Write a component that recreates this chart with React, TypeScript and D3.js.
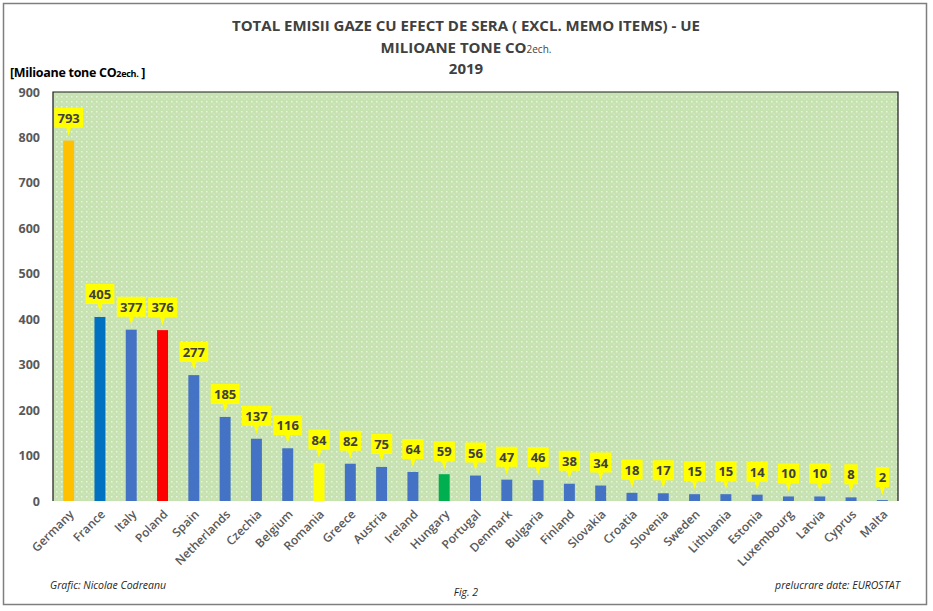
import React, { useRef, useEffect } from "react";
import * as d3 from "d3";

const countries = [
    "Germany", "France", "Italy", "Poland", "Spain", "Netherlands", "Czechia",
    "Belgium", "Romania", "Greece", "Austria", "Ireland", "Hungary", "Portugal",
    "Denmark", "Bulgaria", "Finland", "Slovakia", "Croatia", "Slovenia", "Sweden",
    "Lithuania", "Estonia", "Luxembourg", "Latvia", "Cyprus", "Malta",
];
const emissions = [
    793, 405, 377, 376, 277, 185, 137, 116, 84, 82, 75, 64, 59, 56, 47, 46, 38,
    34, 18, 17, 15, 15, 14, 10, 10, 8, 2,
];
const yTicks = [0, 100, 200, 300, 400, 500, 600, 700, 800, 900];

const highlight: Record<string, string> = {
    Germany: "#FFC000",
    France: "#0070C0",
    Poland: "#FF0000",
    Romania: "#FFFF00",
    Hungary: "#00B050",
};

const FONT = "'Open Sans', 'Noto Sans', sans-serif";

export const EmissionsChart = () => {
    const svgRef = useRef<SVGSVGElement>(null);

    useEffect(() => {
        if (!svgRef.current) return;
        const svg = d3.select(svgRef.current);
        svg.selectAll("*").remove();

        const width = 933;
        const height = 611;
        const plot = { left: 53, top: 92, right: 898, bottom: 501 };

        // frame
        svg.append("rect")
            .attr("x", 0).attr("y", 0).attr("width", width).attr("height", height)
            .attr("fill", "#fff");
        svg.append("rect")
            .attr("x", 3.5).attr("y", 3.5).attr("width", 923).attr("height", 601)
            .attr("fill", "none").attr("stroke", "#7f7f7f").attr("stroke-width", 1.5);

        const defs = svg.append("defs");
        const pat = defs.append("pattern")
            .attr("id", "dots").attr("patternUnits", "userSpaceOnUse")
            .attr("width", 5).attr("height", 5);
        pat.append("rect").attr("width", 5).attr("height", 5).attr("fill", "#C7E2B1");
        pat.append("rect").attr("x", 1).attr("y", 1).attr("width", 1.5).attr("height", 1.5)
            .attr("fill", "#E8F4DD");
        pat.append("rect").attr("x", 3.5).attr("y", 3.5).attr("width", 1).attr("height", 1)
            .attr("fill", "#DCEDCC");

        // titles
        const titles = [
            { t: "TOTAL EMISII GAZE CU EFECT DE SERA ( EXCL. MEMO ITEMS) - UE", y: 31 },
            { t: "2019", y: 74 },
        ];
        titles.forEach((d) =>
            svg.append("text")
                .attr("x", 466).attr("y", d.y)
                .attr("text-anchor", "middle")
                .attr("font-family", FONT).attr("font-weight", "bold")
                .attr("font-size", 15).attr("fill", "#404040")
                .text(d.t)
        );
        const sub = svg.append("text")
            .attr("x", 466).attr("y", 53)
            .attr("text-anchor", "middle")
            .attr("font-family", FONT).attr("font-weight", "bold")
            .attr("font-size", 15).attr("fill", "#404040");
        sub.append("tspan").text("MILIOANE TONE CO");
        sub.append("tspan").attr("font-size", 10).attr("font-weight", "normal").text("2ech.");

        const yl = svg.append("text")
            .attr("x", 10).attr("y", 77)
            .attr("font-family", FONT).attr("font-weight", "bold")
            .attr("font-size", 12.5).attr("fill", "#000")
            .attr("letter-spacing", -0.3);
        yl.append("tspan").text("[Milioane tone CO");
        yl.append("tspan").attr("font-size", 9).text("2ech.");
        yl.append("tspan").text(" ]");

        const x = d3.scaleBand<string>()
            .domain(countries)
            .range([plot.left, plot.right])
            .paddingInner(0.65)
            .paddingOuter(0.325);

        const y = d3.scaleLinear()
            .domain([0, 900])
            .range([plot.bottom, plot.top]);

        svg.append("rect")
            .attr("x", plot.left).attr("y", plot.top)
            .attr("width", plot.right - plot.left).attr("height", plot.bottom - plot.top)
            .attr("fill", "url(#dots)");
        svg.append("path")
            .attr("d", `M${plot.left},${plot.bottom}V${plot.top}H${plot.right}V${plot.bottom}`)
            .attr("fill", "none").attr("stroke", "#1a1a1a").attr("stroke-width", 1.2);

        // y axis
        const yAxis = svg.append("g")
            .attr("transform", `translate(${plot.left},0)`)
            .call(d3.axisLeft(y).tickValues(yTicks).tickSize(0).tickPadding(13));
        yAxis.select(".domain").remove();
        yAxis.selectAll("text")
            .attr("font-family", FONT).attr("font-weight", "bold")
            .attr("font-size", 12.5).attr("fill", "#595959");

        // x axis
        const xAxis = svg.append("g")
            .attr("transform", `translate(0,${plot.bottom})`)
            .call(d3.axisBottom(x).tickSize(0).tickPadding(0));
        xAxis.select(".domain").remove();
        xAxis.selectAll("text")
            .attr("font-family", FONT).attr("font-weight", 600)
            .attr("font-size", 12).attr("fill", "#595959")
            .attr("text-anchor", "end")
            .attr("dy", null)
            .attr("transform", "translate(6,14) rotate(-45)");

        // bars
        svg.append("g")
            .selectAll("rect")
            .data(countries)
            .enter()
            .append("rect")
            .attr("x", (d) => x(d) || 0)
            .attr("y", (d, i) => y(emissions[i]))
            .attr("width", x.bandwidth())
            .attr("height", (d, i) => plot.bottom - y(emissions[i]))
            .attr("fill", (d) => highlight[d] || "#4472C4");

        // callouts
        const callouts = svg.append("g")
            .selectAll("g")
            .data(countries)
            .enter()
            .append("g")
            .attr("transform", (d, i) =>
                `translate(${(x(d) || 0) + x.bandwidth() / 2},${y(emissions[i]) - 5})`);

        callouts.append("path")
            .attr("d", (d, i) => {
                const w = String(emissions[i]).length * 7.6 + 6;
                const h = 20;
                const p = 8;
                return `M0,0L-2.5,${-p}H${-w / 2}V${-p - h}H${w / 2}V${-p}H2.5Z`;
            })
            .attr("fill", "#FFFF00");

        callouts.append("text")
            .attr("y", -13)
            .attr("text-anchor", "middle")
            .attr("font-family", FONT).attr("font-weight", "bold")
            .attr("font-size", 13).attr("fill", "#404040")
            .text((d, i) => emissions[i]);

        // footer
        const foot = [
            { t: "Grafic: Nicolae Codreanu", x: 50, y: 589, a: "start" },
            { t: "Fig. 2", x: 466, y: 596, a: "middle" },
            { t: "prelucrare date: EUROSTAT", x: 900, y: 589, a: "end" },
        ];
        foot.forEach((d) =>
            svg.append("text")
                .attr("x", d.x).attr("y", d.y)
                .attr("text-anchor", d.a)
                .attr("font-family", FONT).attr("font-style", "italic")
                .attr("font-size", 10.5).attr("fill", "#262626")
                .text(d.t)
        );

        svg.attr("width", width).attr("height", height)
            .attr("viewBox", [0, 0, width, height]);
    }, []);

    return <svg ref={svgRef} style={{ position: "absolute", left: 0, top: 0 }} />;
};

export default function App() {
    return <EmissionsChart />;
}
